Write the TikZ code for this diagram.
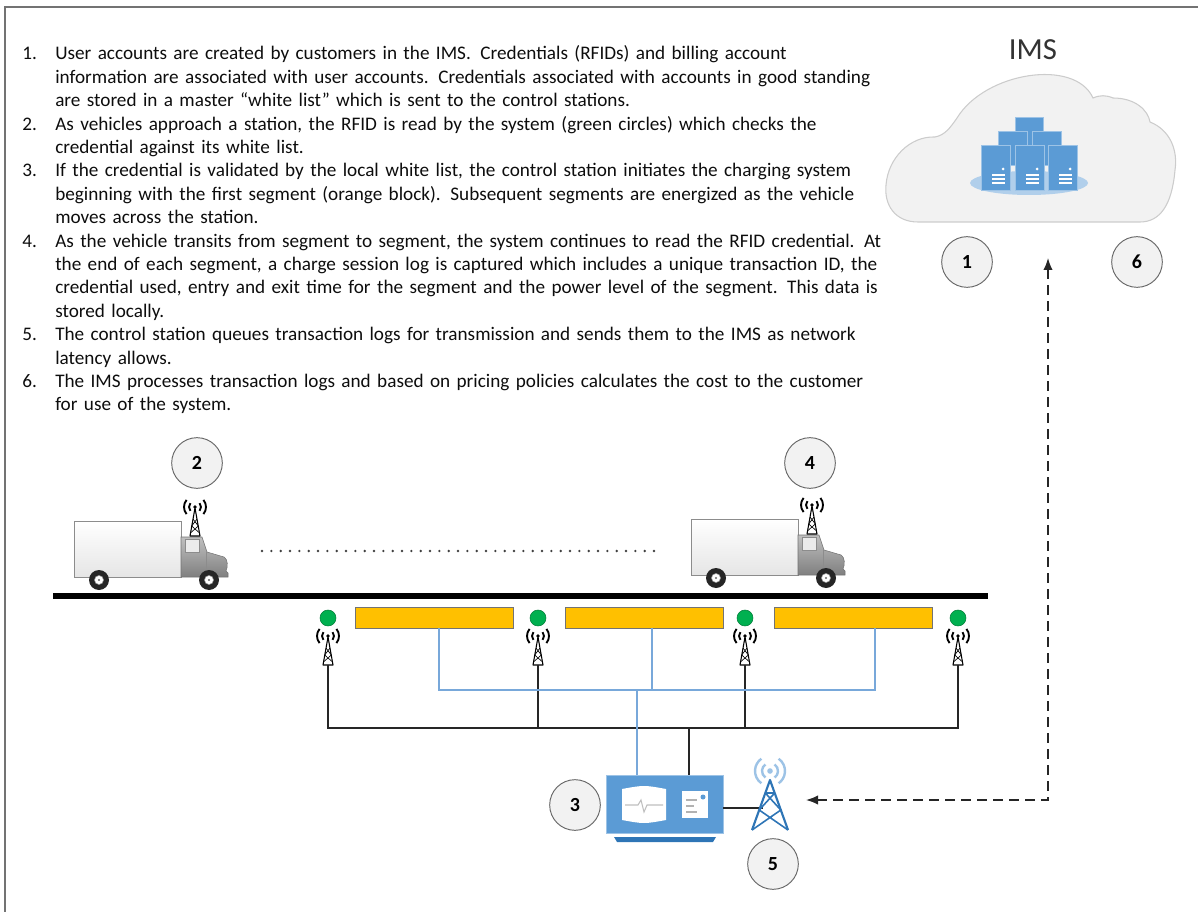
\documentclass[tikz,border=0pt]{standalone}
\usepackage{fontspec}
\setmainfont{Carlito}
\usepackage{tikz}
\usetikzlibrary{arrows.meta,positioning}
\definecolor{segorange}{RGB}{255,192,0}
\definecolor{msblue}{RGB}{91,155,213}
\definecolor{darkblue}{RGB}{46,117,182}
\definecolor{paleblue}{RGB}{157,195,230}
\definecolor{wireblue}{RGB}{120,168,218}
\definecolor{beacongreen}{RGB}{0,176,80}
\definecolor{cloudgray}{RGB}{242,242,242}

\begin{document}
\begin{tikzpicture}[x=0.75pt,y=-0.75pt,>={Latex[length=9pt,width=7pt]},
  txt/.style={anchor=base west,inner sep=0pt,text=black!95,font=\fontsize{14.4}{17.55}\selectfont},
  para/.style={txt,text width=640pt,align=left},
  num/.style={circle,draw=black!60,line width=0.7pt,fill=black!5,minimum size=38pt,inner sep=0pt,font=\bfseries\fontsize{15}{18}\selectfont},
  seg/.style={draw=black!55,fill=segorange,minimum width=118.5pt,minimum height=15.75pt,inner sep=0pt},
  bcn/.style={circle,fill=beacongreen,draw=beacongreen!70!black,minimum size=12pt,inner sep=0pt},
  ctl/.style={fill=msblue,draw=paleblue,minimum width=87.75pt,minimum height=43.5pt,inner sep=0pt},
  kw/.style={draw=black!85,line width=1.3pt},
  bw/.style={draw=wireblue,line width=1.3pt},
  srv/.style={fill=msblue,draw=paleblue,line width=0.5pt},
  dots/.style={black!75,line width=2pt,line cap=round,dash pattern=on 0pt off 7pt},
  link/.style={<->,black!85,line width=1.1pt,dash pattern=on 7pt off 5pt},
  ant/.pic={
    \fill (0,0) circle (1.8);
    \draw[line width=1.4pt] (0,0) ++(140:6) arc[start angle=140,end angle=220,radius=6]
      (0,0) ++(140:11) arc[start angle=140,end angle=220,radius=11]
      (0,0) ++(-40:6) arc[start angle=-40,end angle=40,radius=6]
      (0,0) ++(-40:11) arc[start angle=-40,end angle=40,radius=11];
    \draw[line width=0.8pt,line join=round] (-5,29) -- (0,1) -- (5,29) -- cycle;
    \draw[line width=0.5pt] (-2,12) -- (3.3,19) -- (-4.6,26) (2,12) -- (-3.3,19) -- (4.6,26);
  },
  truck/.pic={
    \draw[black!45,top color=white,bottom color=black!10] (0,0) rectangle (107,-56);
    \draw[black!55,top color=black!25,bottom color=black!50] (107,0) -- (107,-40) -- (128,-40) -- (133,-25)
      -- (150,-20) .. controls (154,-18) and (154,-10) .. (152,-6) -- (154,-4) -- (154,0) -- cycle;
    \draw[black!45,fill=black!8] (111,-38) rectangle (125,-25);
    \draw[black!45] (132,-25) -- (132,-3);
    \foreach \wx in {25,135} {
      \fill[black!85] (\wx,3) circle (10);
      \draw[black!40,fill=white] (\wx,3) circle (4.5);
      \fill[black!60] (\wx,3) circle (1.2);
    }
    \pic at (121,-70) {ant};
  }]
  \useasboundingbox (0,0) rectangle (1198,912);
  \draw[black!55,line width=1.5pt] (5,912) -- (5,7) -- (1198,7);

  \node[txt] (i1) at (22,60) {1.};
  \node[para] (p1) at (55,60) {User accounts are created by customers in the IMS\@.  Credentials (RFIDs) and billing account\\
    information are associated with user accounts.  Credentials associated with accounts in good standing\\
    are stored in a master “white list” which is sent to the control stations.};
  \node[txt] (i2) at (22,130.2) {2.};
  \node[para] (p2) at (55,130.2) {As vehicles approach a station, the RFID is read by the system (green circles) which checks the\\
    credential against its white list.};
  \node[txt] (i3) at (22,177) {3.};
  \node[para] (p3) at (55,177) {If the credential is validated by the local white list, the control station initiates the charging system\\
    beginning with the first segment (orange block).  Subsequent segments are energized as the vehicle\\
    moves across the station.};
  \node[txt] (i4) at (22,247.2) {4.};
  \node[para] (p4) at (55,247.2) {As the vehicle transits from segment to segment, the system continues to read the RFID credential.  At\\
    the end of each segment, a charge session log is captured which includes a unique transaction ID, the\\
    credential used, entry and exit time for the segment and the power level of the segment.  This data is\\
    stored locally.};
  \node[txt] (i5) at (22,340.8) {5.};
  \node[para] (p5) at (55,340.8) {The control station queues transaction logs for transmission and sends them to the IMS as network\\
    latency allows.};
  \node[txt] (i6) at (22,387.6) {6.};
  \node[para] (p6) at (55,387.6) {The IMS processes transaction logs and based on pricing policies calculates the cost to the customer\\
    for use of the system.};

  \node[font=\fontsize{23}{28}\selectfont,text=black!80] (ims) at (1033,50) {IMS};
  \draw[black!20,fill=cloudgray,line width=0.8pt] (918,222) .. controls (895,222) and (884,205) .. (886,185)
    .. controls (888,158) and (910,136) .. (935,137) .. controls (945,135) and (950,128) .. (957,118)
    .. controls (985,72) and (1075,58) .. (1093,98) .. controls (1100,95) and (1106,95) .. (1113,98)
    .. controls (1135,98) and (1148,110) .. (1150,122) .. controls (1170,130) and (1178,150) .. (1175,170)
    .. controls (1172,205) and (1160,222) .. (1140,222) -- cycle;
  \fill[paleblue!80] (1029,183) ellipse (59 and 12);
  \filldraw[srv] (1015,117) rectangle (1043,150);
  \filldraw[srv] (998,131) rectangle (1027,165);
  \filldraw[srv] (1032,131) rectangle (1061,165);
  \foreach \sx in {981,1015,1048} {
    \filldraw[srv] (\sx,145) rectangle (\sx+29,190);
    \fill[white] (\sx+22,169) circle (1.5);
    \draw[white,line width=0.8pt] (\sx+11,175) -- (\sx+24,175) (\sx+11,179) -- (\sx+24,179) (\sx+11,183) -- (\sx+24,183);
  }

  \node[num] (n1) at (967,262) {1};
  \node[num] (n6) at (1137,262) {6};
  \node[num] (n2) at (197,463) {2};
  \node[num] (n4) at (810,463) {4};
  \node[num] (n3) at (575,805) {3};
  \node[num] (n5) at (773,864) {5};

  \pic at (74,577) {truck};
  \pic at (691,575) {truck};
  \coordinate (d0) at (262,551);
  \coordinate (d1) at (656,551);
  \draw[dots] (d0) -- (d1);
  \coordinate (r0) at (53,596);
  \coordinate (r1) at (988,596);
  \draw[line width=4.5pt] (r0) -- (r1);

  \node[seg] (s1) at (434,617.5) {};
  \node[seg] (s2) at (644,617.5) {};
  \node[seg] (s3) at (853.5,617.5) {};
  \foreach \bx [count=\i] in {328,538,745,958} {
    \node[bcn] (g\i) at (\bx,618) {};
    \pic at (\bx,636) {ant};
    \coordinate (a\i) at (\bx,665);
  }

  \node[ctl] (ctl) at (664.5,804) {};
  \fill[darkblue] (614,837) -- (716,837) -- (713,842) -- (617,842) -- cycle;
  \fill[white] (622,789) .. controls (644,785) .. (666,789) -- (666,820) .. controls (644,824) .. (622,820) -- cycle;
  \draw[black!25,line width=0.8pt] (625,805) -- (638,805) -- (641,800) -- (644,812) -- (647,805) -- (663,805);
  \fill[white] (682,791) rectangle (708,818);
  \fill[msblue] (703,797) circle (2.5);
  \draw[black!30,line width=0.8pt] (686,800) -- (697,800) (686,806) -- (694,806) (686,812) -- (697,812);

  \coordinate (kb) at (0,728);
  \coordinate (kc) at (689,728);
  \draw[kw] (a1) |- (a4 |- kb) -- (a4);
  \draw[kw] (a2) -- (a2 |- kb);
  \draw[kw] (a3) -- (a3 |- kb);
  \draw[kw] (kc) -- (kc |- ctl.north);

  \coordinate (t1) at (439,690);
  \coordinate (t2) at (652,690);
  \coordinate (t3) at (875,690);
  \coordinate (tc) at (637,690);
  \draw[bw] (t1 |- s1.south) -- (t1) -- (t3) -- (t3 |- s3.south);
  \draw[bw] (t2 |- s2.south) -- (t2);
  \draw[bw] (tc) -- (tc |- ctl.north);

  \coordinate (twr) at (763,808);
  \draw[kw] (ctl.east |- twr) -- (twr);
  \draw[darkblue,line width=1.6pt,line join=round] (752,830) -- (770,780) -- (788,830);
  \draw[darkblue,line width=1.2pt] (765.3,793) -- (780.8,810) -- (752,830) (774.7,793) -- (759.2,810) -- (788,830)
    (765.3,793) -- (774.7,793);
  \fill[paleblue] (770,771) circle (2.8);
  \draw[paleblue,line width=1.8pt] (770,771) ++(125:8) arc[start angle=125,end angle=235,radius=8]
    (770,771) ++(125:15) arc[start angle=125,end angle=235,radius=15]
    (770,771) ++(-55:8) arc[start angle=-55,end angle=55,radius=8]
    (770,771) ++(-55:15) arc[start angle=-55,end angle=55,radius=15];

  \coordinate (dl) at (806,800);
  \coordinate (du) at (1048,258);
  \draw[link] (dl) -| (du);
\end{tikzpicture}
\end{document}
